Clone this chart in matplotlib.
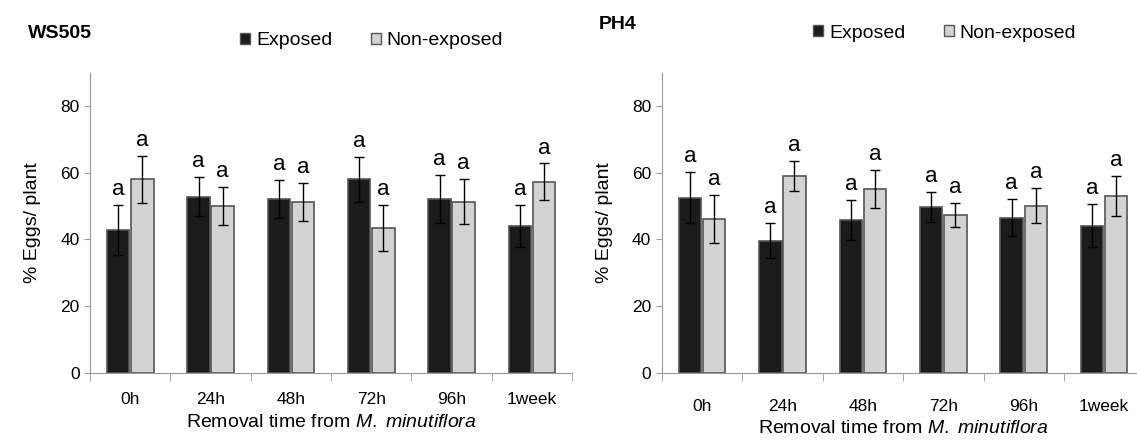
import matplotlib.pyplot as plt
import numpy as np
from matplotlib.patches import Patch
from matplotlib.ticker import FixedLocator, NullFormatter

times = ["0h", "24h", "48h", "72h", "96h", "1week"]

# WS505
ws_exposed = [42.8, 52.8, 52.1, 58.0, 52.1, 44.0]
ws_exposed_err = [7.5, 5.8, 5.8, 6.7, 7.2, 6.2]
ws_nonexp = [58.0, 50.0, 51.3, 43.3, 51.3, 57.3]
ws_nonexp_err = [7.2, 5.8, 5.7, 6.9, 6.7, 5.5]

# PH4
ph_exposed = [52.5, 39.6, 45.8, 49.7, 46.5, 44.1]
ph_exposed_err = [7.7, 5.2, 6.0, 4.5, 5.6, 6.4]
ph_nonexp = [46.1, 59.0, 55.0, 47.3, 50.1, 52.9]
ph_nonexp_err = [7.2, 4.5, 5.7, 3.7, 5.2, 6.0]

letters = "a"

plt.rcParams['font.family'] = ['Liberation Sans', 'DejaVu Sans']
plt.rcParams['mathtext.fontset'] = 'custom'
plt.rcParams['mathtext.rm'] = 'Liberation Sans'
plt.rcParams['mathtext.it'] = 'Liberation Sans:italic'

fig = plt.figure(figsize=(11.37, 4.42), dpi=100)
ax1 = fig.add_axes([0.0792, 0.157, 0.424, 0.678])
ax2 = fig.add_axes([0.582, 0.157, 0.4245, 0.678])

dark = "#1b1b1b"
light = "#d3d3d3"
edge = "#555555"
axcol = "#9a9a9a"


def draw(ax, exp, exp_err, non, non_err, xpad, lpad):
    x = np.arange(len(times))
    w = 0.28
    ax.bar(x - w / 2 - 0.01, exp, w, color=dark, edgecolor=edge, linewidth=1.2, zorder=2)
    ax.bar(x + w / 2 + 0.01, non, w, color=light, edgecolor=edge, linewidth=1.2, zorder=2)
    ax.errorbar(x - w / 2 - 0.01, exp, yerr=exp_err, fmt='none', ecolor='black',
                elinewidth=1, capsize=3.5, capthick=1, zorder=3)
    ax.errorbar(x + w / 2 + 0.01, non, yerr=non_err, fmt='none', ecolor='black',
                elinewidth=1, capsize=3.5, capthick=1, zorder=3)
    for xi, v, e in zip(x - w / 2 - 0.01, exp, exp_err):
        ax.text(xi, v + e + 1.5, letters, ha='center', va='bottom', fontsize=16)
    for xi, v, e in zip(x + w / 2 + 0.01, non, non_err):
        ax.text(xi, v + e + 1.5, letters, ha='center', va='bottom', fontsize=16)

    ax.set_xlim(-0.5, len(times) - 0.5)
    ax.set_ylim(0, 90)
    ax.set_yticks([0, 20, 40, 60, 80])
    ax.set_xticks(x)
    ax.set_xticklabels(times, fontsize=12.5)
    ax.xaxis.set_minor_locator(FixedLocator(np.arange(-0.5, len(times), 1.0)))
    ax.xaxis.set_minor_formatter(NullFormatter())
    ax.tick_params(axis='x', which='major', length=0, pad=xpad)
    ax.tick_params(axis='x', which='minor', length=6, color=axcol, direction='out')
    ax.tick_params(axis='y', length=4, color=axcol, labelsize=12.5)
    for s in ['top', 'right']:
        ax.spines[s].set_visible(False)
    for s in ['left', 'bottom']:
        ax.spines[s].set_color(axcol)
    ax.set_ylabel("% Eggs/ plant", fontsize=14, labelpad=14)
    ax.set_xlabel("Removal time from $\\it{M.\\ minutiflora}$", fontsize=14, labelpad=lpad)


draw(ax1, ws_exposed, ws_exposed_err, ws_nonexp, ws_nonexp_err, 14, 5)
draw(ax2, ph_exposed, ph_exposed_err, ph_nonexp, ph_nonexp_err, 19, 4)

handles = [Patch(facecolor=dark, edgecolor=edge), Patch(facecolor=light, edgecolor=edge)]
fig.text(0.025, 0.925, "WS505", fontsize=14, fontweight='bold', va='center')
fig.text(0.527, 0.945, "PH4", fontsize=14, fontweight='bold', va='center')
fig.legend(handles, ["Exposed", "Non-exposed"], ncol=2, frameon=False, fontsize=14,
           loc='center left', bbox_to_anchor=(0.196, 0.908), handlelength=0.5,
           handleheight=0.5, handletextpad=0.3, columnspacing=2.0)
fig.legend(handles, ["Exposed", "Non-exposed"], ncol=2, frameon=False, fontsize=14,
           loc='center left', bbox_to_anchor=(0.7, 0.925), handlelength=0.5,
           handleheight=0.5, handletextpad=0.3, columnspacing=2.0)

fig.savefig("out.png", dpi=100)
